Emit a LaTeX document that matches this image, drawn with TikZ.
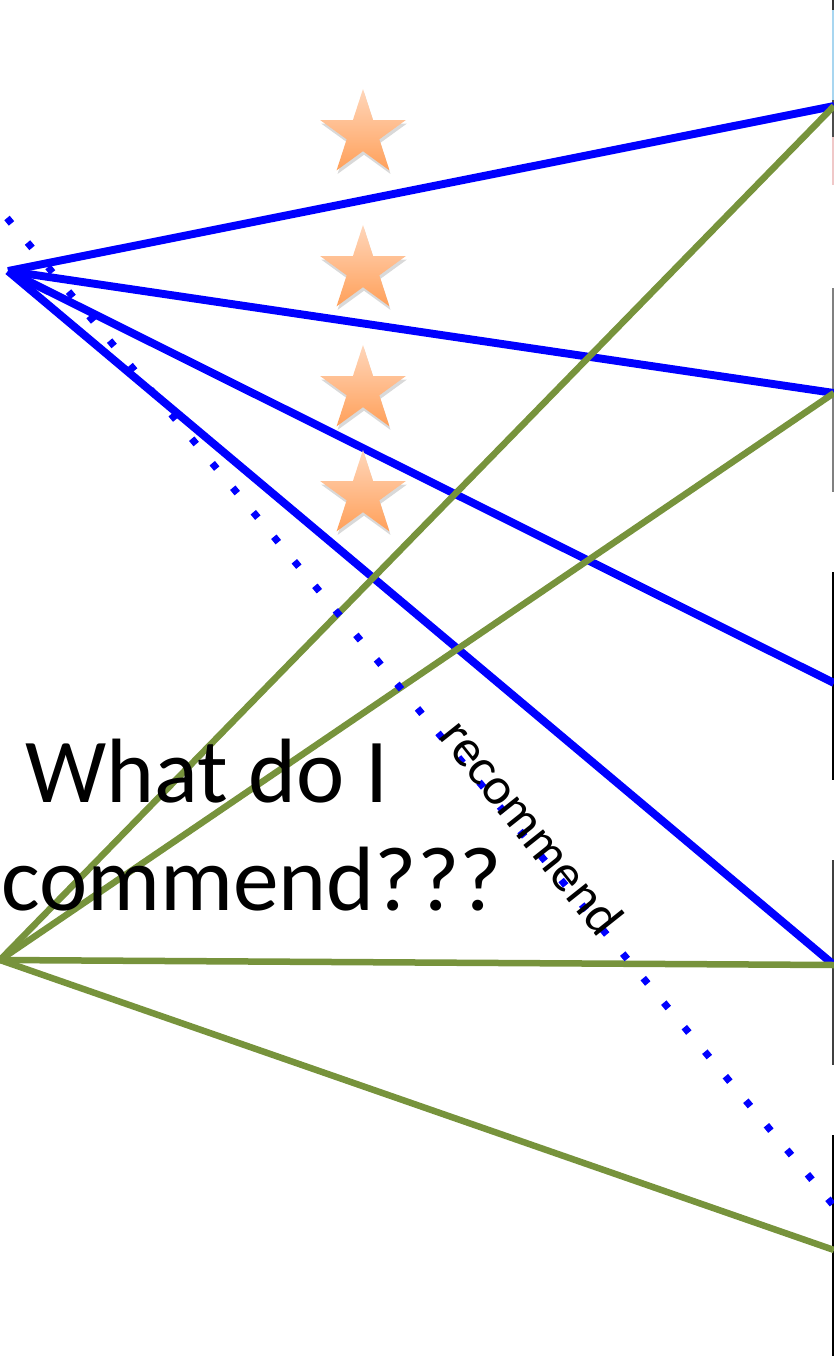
\documentclass[tikz,border=0pt]{standalone}
\usepackage{fontspec}
\setmainfont{Carlito}
\usetikzlibrary{shapes.geometric,shadows}
\definecolor{recblue}{RGB}{0,0,255}
\definecolor{likegreen}{RGB}{119,147,60}
\definecolor{startop}{RGB}{255,214,186}
\definecolor{starbot}{RGB}{255,160,90}
\definecolor{stripsky}{RGB}{168,214,240}
\definecolor{strippink}{RGB}{240,200,200}

\begin{document}
\begin{tikzpicture}[x=0.02cm, y=-0.02cm,
  blueline/.style={recblue, line width=4.5pt},
  greenline/.style={likegreen, line width=3.7pt},
  recline/.style={recblue, line width=4pt, dash pattern=on 4pt off 14.2pt},
  rating/.style={star, star points=5, star point ratio=2.618,
    minimum size=1.8cm, inner sep=0pt, draw=none,
    top color=startop, bottom color=starbot,
    drop shadow={shadow xshift=0.6pt, shadow yshift=-2pt, opacity=0.3}}]

\useasboundingbox (0,0) rectangle (834,1356);
\clip (0,0) rectangle (834,1356);

% Users on the left, items on the right
\coordinate (user) at (8,271);
\coordinate (other) at (0,960);
\coordinate (i1) at (834,106);
\coordinate (i2) at (834,393);
\coordinate (i3) at (834,683);
\coordinate (i4) at (834,965);
\coordinate (i5) at (834,1250);

% Cut-off item pictures at the right edge
\fill[stripsky] (832,0) rectangle (834,137);
\fill[black!80] (832,0) rectangle (834,10);
\fill[black!70] (832,100) rectangle (834,137);
\fill[strippink] (832,137) rectangle (834,185);
\fill[gray] (832,288) rectangle (834,492);
\fill[black] (832,572) rectangle (834,780);
\fill[black!75] (832,860) rectangle (834,1065);
\fill[black] (832,1135) rectangle (834,1356);

% Ratings of the first user
\foreach \item in {i1,i2,i3,i4} {
    \draw[blueline] (user) -- (\item);
}

% Ratings of the second user
\foreach \item in {i1,i2,i4,i5} {
    \draw[greenline] (other) -- (\item);
}

% Recommendation
\coordinate (r0) at (7,218);
\coordinate (r1) at (834,1206);
\draw[recline] (r0) -- (r1);
\node[rotate=-51.5, anchor=base, inner sep=0pt,
      font=\fontsize{30}{36}\selectfont] (rec) at (518,838) {recommend};

% Stars
\node[rating] (s1) at (363,134) {};
\node[rating] (s2) at (363,270) {};
\node[rating] (s3) at (363,390) {};
\node[rating] (s4) at (363,495) {};

% Question
\node[anchor=base west, inner sep=0pt,
      font=\fontsize{52}{62}\selectfont] (ask1) at (25,802) {What do I};
\node[anchor=base west, inner sep=0pt,
      font=\fontsize{52}{62}\selectfont] (ask2) at (1,910) {commend???};
\end{tikzpicture}
\end{document}
